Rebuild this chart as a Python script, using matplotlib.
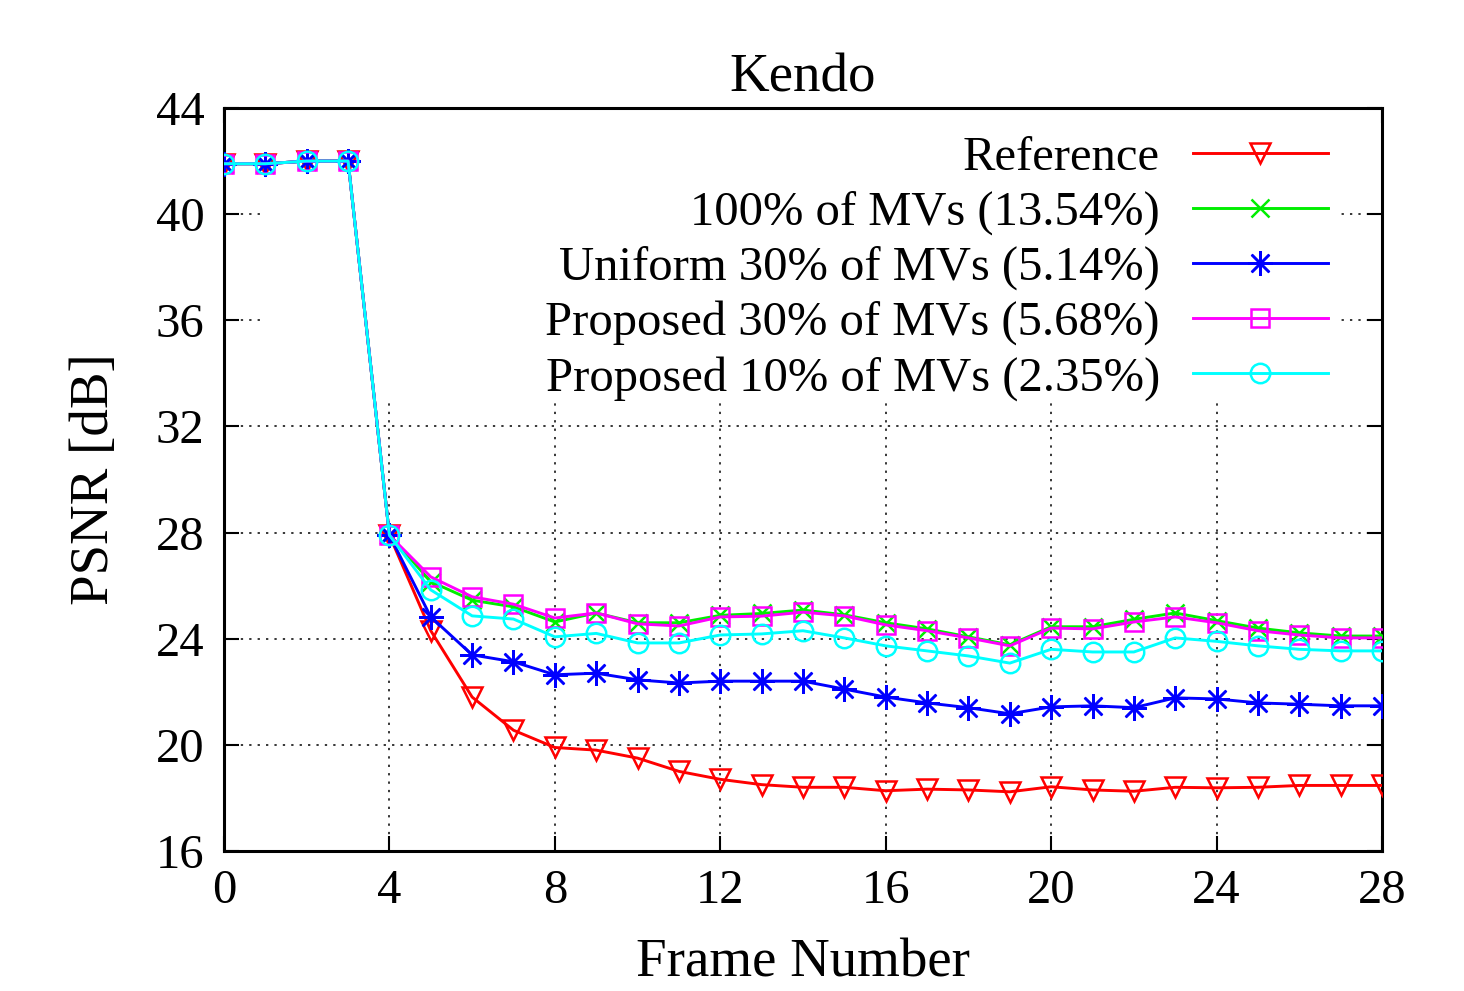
import matplotlib
matplotlib.use("Agg")
import matplotlib.pyplot as plt
from matplotlib.patches import Rectangle

# data
frames = list(range(29))
reference = [41.9, 41.9, 42.0, 42.0, 27.9,
             24.3, 21.8, 20.55, 19.9, 19.8, 19.5, 19.0, 18.7, 18.5,
             18.4, 18.4, 18.27, 18.33, 18.3, 18.23, 18.42,
             18.3, 18.25, 18.4, 18.38, 18.4, 18.47, 18.47, 18.47]
mv100 = [41.9, 41.9, 42.0, 42.0, 27.9,
         26.15, 25.45, 25.2, 24.63, 24.97, 24.6, 24.6, 24.88, 24.95,
         25.08, 24.9, 24.6, 24.37, 24.07, 23.77, 24.45,
         24.45, 24.73, 24.97, 24.68, 24.4, 24.22, 24.1, 24.1]
uniform30 = [41.9, 41.9, 42.0, 42.0, 27.9,
             24.82, 23.39, 23.13, 22.64, 22.7, 22.45, 22.33, 22.4, 22.4,
             22.4, 22.1, 21.8, 21.58, 21.4, 21.17, 21.43,
             21.47, 21.4, 21.77, 21.73, 21.58, 21.53, 21.47, 21.47]
proposed30 = [41.9, 41.9, 42.0, 42.0, 27.9,
              26.33, 25.58, 25.3, 24.78, 24.97, 24.56, 24.48, 24.82, 24.85,
              25.0, 24.86, 24.52, 24.3, 24.03, 23.73, 24.4,
              24.37, 24.63, 24.82, 24.6, 24.3, 24.14, 24.03, 24.03]
proposed10 = [41.9, 41.9, 42.0, 42.0, 27.9,
              25.84, 24.86, 24.74, 24.07, 24.2, 23.84, 23.84, 24.14, 24.18,
              24.3, 24.03, 23.73, 23.54, 23.35, 23.08, 23.6,
              23.5, 23.5, 24.03, 23.9, 23.73, 23.6, 23.54, 23.54]

labels = ["Reference",
          "100% of MVs (13.54%)",
          "Uniform 30% of MVs (5.14%)",
          "Proposed 30% of MVs (5.68%)",
          "Proposed 10% of MVs (2.35%)"]
xticks = [0, 4, 8, 12, 16, 20, 24, 28]
yticks = [16, 20, 24, 28, 32, 36, 40, 44]

plt.rcParams['font.family'] = ['Liberation Serif', 'DejaVu Serif']

fig = plt.figure(figsize=(14.64, 9.91), dpi=100)
ax = fig.add_axes([0.153, 0.1413, 0.791, 0.7497])

series = [
    (reference, '#ff0000', 'v', 14),
    (mv100, '#00ee00', 'x', 13),
    (uniform30, '#0000ff', (8, 2, 0), 18),
    (proposed30, '#ff00ff', 's', 13),
    (proposed10, '#00ffff', 'o', 14),
]
for (vals, col, mk, size), lab in zip(series, labels):
    ax.plot(frames, vals, color=col, marker=mk, ms=size, mew=1.8,
            mfc='none', mec=col, lw=2.1, label=lab, zorder=3)

ax.set_xlim(0, 28)
ax.set_ylim(16, 44)
ax.set_xticks(xticks)
ax.set_yticks(yticks)
ax.tick_params(axis='both', direction='in', length=11, width=1.5,
               labelsize=35, top=True, right=True)
ax.tick_params(axis='x', pad=13)
ax.tick_params(axis='y', pad=14)
for s in ax.spines.values():
    s.set_linewidth(2.2)

ax.set_axisbelow(True)
ax.grid(True, color='black', linestyle=(0, (1.5, 4)), linewidth=1.1)

# white key area hides the grid behind the legend
ax.add_patch(Rectangle((0.035, 0.607), 0.93, 0.39, transform=ax.transAxes,
                       facecolor='white', edgecolor='none', zorder=0.8))

ax.set_title("Kendo", fontsize=39.5, pad=12)
ax.set_xlabel("Frame Number", fontsize=39.5, labelpad=18)
ax.set_ylabel("PSNR [dB]", fontsize=39.5, labelpad=26)

leg = ax.legend(loc='upper right', bbox_to_anchor=(0.9534, 0.962),
                frameon=False, fontsize=35, markerfirst=False,
                handlelength=2.78, handletextpad=0.68, labelspacing=0.215,
                borderpad=0, borderaxespad=0, numpoints=1)

fig.savefig("out.png", dpi=100)
